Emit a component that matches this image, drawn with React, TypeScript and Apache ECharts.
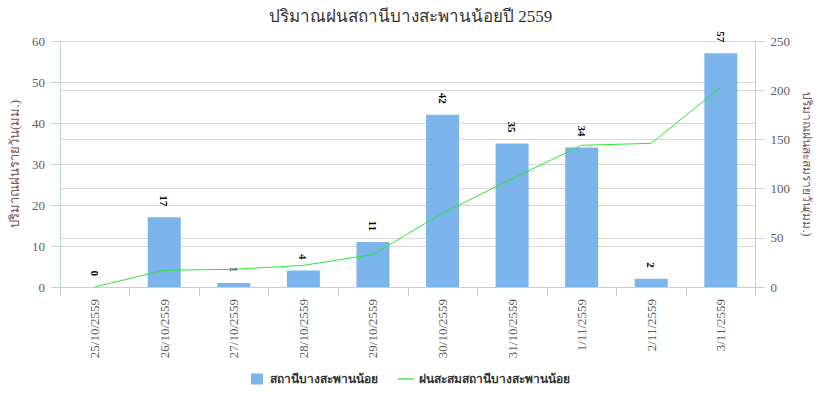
import React, { useEffect, useRef } from "react";
import * as echarts from "echarts";

const titleText = "ปริมาณฝนสถานีบางสะพานน้อยปี 2559";
const categories = [
  "25/10/2559",
  "26/10/2559",
  "27/10/2559",
  "28/10/2559",
  "29/10/2559",
  "30/10/2559",
  "31/10/2559",
  "1/11/2559",
  "2/11/2559",
  "3/11/2559",
];
const dailyName = "สถานีบางสะพานน้อย";
const dailyRain = [0, 17, 1, 4, 11, 42, 35, 34, 2, 57];
const cumulativeName = "ฝนสะสมสถานีบางสะพานน้อย";
const cumulativeRain = [0, 17, 18, 22, 33, 75, 110, 144, 146, 203];
const leftAxisName = "ปริมาณฝนรายวัน(มม.)";
const rightAxisName = "ปริมาณฝนสะสมรายวัน(มม.)";

const FONT = "'Liberation Serif', 'DejaVu Serif', serif";
const AXIS_COLOR = "#c0d0e0";
const GRID_COLOR = "#d8d8d8";

export default function App() {
  const ref = useRef<HTMLDivElement>(null);
  useEffect(() => {
    if (!ref.current) return;
    const chart = echarts.init(ref.current, null, { renderer: "svg" });
    chart.setOption({
      animation: false,
      backgroundColor: "#ffffff",
      textStyle: { fontFamily: FONT },
      title: {
        text: titleText,
        left: "center",
        top: 3,
        textStyle: { fontSize: 17, fontWeight: "normal", color: "#333333", fontFamily: FONT },
      },
      grid: { left: 53, right: 63, top: 41, bottom: 106, containLabel: false },
      legend: {
        bottom: 3,
        left: "center",
        itemWidth: 16,
        itemHeight: 11,
        itemGap: 20,
        textStyle: { fontSize: 12, fontWeight: "bold", color: "#333333", fontFamily: FONT },
        data: [
          { name: dailyName, icon: "path://M0,0H12V11H0Z" },
          { name: cumulativeName, icon: "path://M0,0H20V1.6H0Z" },
        ],
      },
      xAxis: {
        type: "category",
        data: categories,
        boundaryGap: true,
        axisLine: { show: true, lineStyle: { color: AXIS_COLOR, width: 1 } },
        axisTick: { show: true, length: 9, lineStyle: { color: AXIS_COLOR } },
        axisLabel: { rotate: 90, margin: 12, fontSize: 13, color: "#606060", fontFamily: FONT },
        splitLine: { show: false },
      },
      yAxis: [
        {
          type: "value",
          min: 0,
          max: 60,
          interval: 10,
          position: "left",
          name: leftAxisName,
          nameLocation: "middle",
          nameGap: 36,
          nameRotate: 90,
          nameTextStyle: { fontSize: 13, color: "#7a5555", fontFamily: FONT },
          axisLine: { show: true, lineStyle: { color: AXIS_COLOR } },
          axisTick: { show: true, length: 9, lineStyle: { color: AXIS_COLOR } },
          axisLabel: { margin: 15, fontSize: 13, color: "#606060", fontFamily: FONT },
          splitLine: { show: true, lineStyle: { color: GRID_COLOR, width: 1 } },
        },
        {
          type: "value",
          min: 0,
          max: 250,
          interval: 50,
          position: "right",
          name: rightAxisName,
          nameLocation: "middle",
          nameGap: 44,
          nameRotate: -90,
          nameTextStyle: { fontSize: 12, color: "#7a5555", fontFamily: FONT },
          axisLine: { show: true, lineStyle: { color: AXIS_COLOR } },
          axisTick: { show: true, length: 9, lineStyle: { color: AXIS_COLOR } },
          axisLabel: { margin: 15, fontSize: 13, color: "#606060", fontFamily: FONT },
          splitLine: { show: true, lineStyle: { color: GRID_COLOR, width: 1 } },
        },
      ],
      series: [
        {
          name: dailyName,
          type: "bar",
          yAxisIndex: 0,
          data: dailyRain,
          barWidth: 33,
          itemStyle: { color: "#7cb5ec" },
          label: {
            show: true,
            position: "top",
            rotate: -90,
            align: "right",
            verticalAlign: "middle",
            distance: 11,
            fontSize: 11,
            fontWeight: "bold",
            color: "#000000",
            fontFamily: FONT,
          },
        },
        {
          name: cumulativeName,
          type: "line",
          yAxisIndex: 1,
          data: cumulativeRain,
          showSymbol: false,
          symbol: "none",
          lineStyle: { color: "#2ee62e", width: 1 },
          itemStyle: { color: "#2ee62e" },
        },
      ],
    });
    return () => chart.dispose();
  }, []);
  return <div ref={ref} style={{ width: 821, height: 393, position: "absolute", left: 0, top: 0 }} />;
}
